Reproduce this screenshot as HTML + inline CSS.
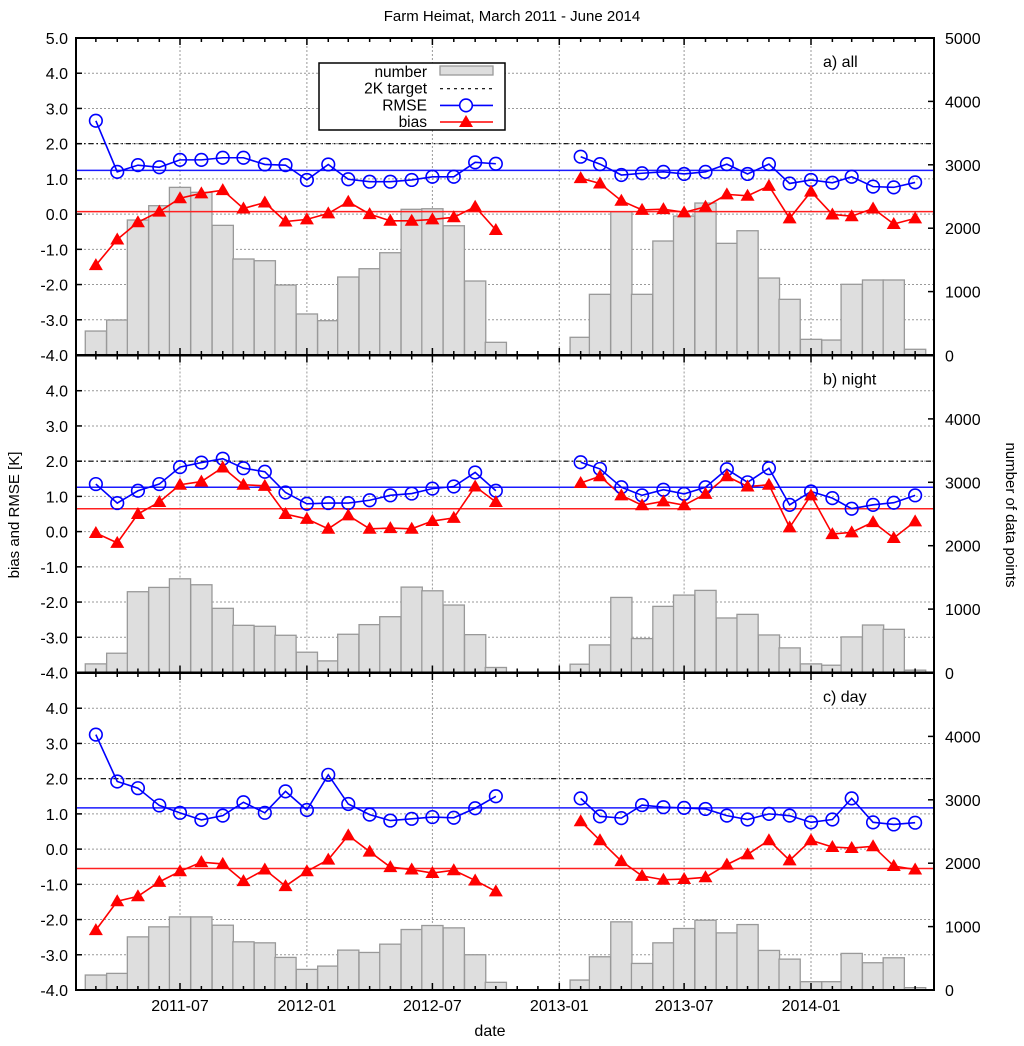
<!DOCTYPE html>
<html><head><meta charset="utf-8"><style>
html,body{margin:0;padding:0;background:#fff}
svg{display:block;font-family:"Liberation Sans",Arial,sans-serif}
</style></head><body>
<svg id="chart" width="1024" height="1046" viewBox="0 0 1024 1046" xmlns="http://www.w3.org/2000/svg">
<text x="512" y="21" font-size="15" text-anchor="middle">Farm Heimat, March 2011 - June 2014</text>
<text transform="translate(19,515) rotate(-90)" font-size="15" text-anchor="middle">bias and RMSE [K]</text>
<text transform="translate(1006,515) rotate(90)" font-size="15" text-anchor="middle">number of data points</text>
<text x="490" y="1036" font-size="16" text-anchor="middle">date</text>
</svg>
<script>
const months = ["2011-03","2011-04","2011-05","2011-06","2011-07","2011-08","2011-09","2011-10","2011-11","2011-12","2012-01","2012-02","2012-03","2012-04","2012-05","2012-06","2012-07","2012-08","2012-09","2012-10",
"2013-02","2013-03","2013-04","2013-05","2013-06","2013-07","2013-08","2013-09","2013-10","2013-11","2013-12","2014-01","2014-02","2014-03","2014-04","2014-05","2014-06"];
const xTicks = ["2011-07","2012-01","2012-07","2013-01","2013-07","2014-01"];
const leftTicks = [-4,-3,-2,-1,0,1,2,3,4,5];
const rightTicks = [0,1000,2000,3000,4000,5000];
const panelLabels = ["a) all","b) night","c) day"];

const countsA = [378,552,2129,2355,2644,2566,2045,1514,1487,1104,647,541,1230,1361,1613,2298,2307,2039,1167,200,
279,957,2260,957,1798,2192,2397,1761,1960,1214,878,247,236,1115,1183,1183,90];
const rmseA = [2.65,1.20,1.39,1.33,1.54,1.54,1.60,1.60,1.41,1.39,0.97,1.41,0.99,0.92,0.92,0.97,1.06,1.06,1.47,1.43,
1.63,1.42,1.11,1.16,1.20,1.14,1.20,1.42,1.14,1.42,0.87,0.97,0.89,1.06,0.78,0.76,0.90];
const biasA = [-1.45,-0.72,-0.23,0.07,0.45,0.59,0.68,0.16,0.33,-0.21,-0.15,0.02,0.35,0.0,-0.19,-0.19,-0.15,-0.09,0.21,-0.45,
1.02,0.87,0.38,0.12,0.14,0.05,0.21,0.56,0.52,0.80,-0.12,0.64,-0.01,-0.06,0.16,-0.28,-0.12];
const meanRmseA = 1.24, meanBiasA = 0.07;

const countsB = [136,304,1274,1342,1478,1384,1012,744,729,587,320,183,603,755,880,1347,1289,1064,597,79,
131,435,1184,535,1043,1221,1295,860,917,592,388,136,115,561,749,681,37];
const rmseB = [1.35,0.81,1.16,1.35,1.83,1.96,2.07,1.80,1.70,1.11,0.79,0.81,0.81,0.89,1.03,1.08,1.22,1.28,1.68,1.16,
1.97,1.78,1.26,1.03,1.19,1.07,1.26,1.77,1.40,1.80,0.76,1.14,0.95,0.65,0.76,0.82,1.03];
const biasB = [-0.04,-0.32,0.50,0.84,1.33,1.42,1.82,1.33,1.30,0.50,0.36,0.08,0.46,0.08,0.10,0.08,0.30,0.39,1.28,0.84,
1.38,1.57,1.03,0.75,0.86,0.75,1.07,1.57,1.28,1.33,0.12,1.03,-0.07,-0.02,0.27,-0.18,0.29];
const meanRmseB = 1.26, meanBiasB = 0.65;

const countsC = [236,262,838,996,1153,1153,1022,760,744,514,325,377,629,592,723,954,1017,980,556,121,
157,524,1075,419,744,970,1101,901,1032,624,487,131,131,577,430,508,37];
const rmseC = [3.25,1.92,1.73,1.24,1.03,0.83,0.95,1.33,1.03,1.64,1.11,2.11,1.28,0.98,0.81,0.86,0.91,0.89,1.16,1.50,
1.44,0.93,0.88,1.25,1.19,1.17,1.14,0.95,0.84,1.00,0.95,0.76,0.84,1.44,0.76,0.70,0.75];
const biasC = [-2.30,-1.48,-1.34,-0.93,-0.63,-0.37,-0.42,-0.91,-0.58,-1.05,-0.63,-0.30,0.39,-0.07,-0.51,-0.58,-0.68,-0.60,-0.89,-1.20,
0.79,0.25,-0.34,-0.76,-0.87,-0.85,-0.80,-0.44,-0.15,0.25,-0.32,0.25,0.06,0.03,0.08,-0.48,-0.58];
const meanRmseC = 1.17, meanBiasC = -0.55;
const targetValue = 2;

const NS = "http://www.w3.org/2000/svg";
const svg = document.getElementById("chart");
const L = 76, R = 934;
const panelTops = [38, 355.5, 673];
const PH = 317;
function days(s){ const p=s.split("-"); return Date.UTC(+p[0],+p[1]-1,1)/86400000; }
const d0 = days("2011-07"), d1 = days("2014-01");
function xS(s){ return 180 + (days(s)-d0)*(811-180)/(d1-d0); }
function mk(tag, attrs, parent){ const e=document.createElementNS(NS,tag); for(const k in attrs) e.setAttribute(k,attrs[k]); (parent||svg).appendChild(e); return e; }

const panels = [
 {counts:countsA, rmse:rmseA, bias:biasA, mr:meanRmseA, mb:meanBiasA},
 {counts:countsB, rmse:rmseB, bias:biasB, mr:meanRmseB, mb:meanBiasB},
 {counts:countsC, rmse:rmseC, bias:biasC, mr:meanRmseC, mb:meanBiasC}];

panels.forEach((P, pi) => {
  const top = panelTops[pi], bot = top + PH;
  const yL = v => bot - (v + 4) / 9 * PH;
  const yR = c => bot - c / 5000 * PH;
  const g = mk("g", {});
  
  
  leftTicks.forEach(v => {
    if (v === -4 || v === 5) return;
    const l = mk("line", {x1:L, x2:R, y1:yL(v), y2:yL(v), stroke:"#999", "stroke-width":1, "stroke-dasharray":"2,2"}, g);
    
    
  });
  xTicks.forEach(t => {
    const l = mk("line", {x1:xS(t), x2:xS(t), y1:top, y2:bot, stroke:"#999", "stroke-width":1, "stroke-dasharray":"2,2"}, g);
    
    
  });
  const bw = 21.2;
  P.counts.forEach((c, i) => {
    const x = xS(months[i]);
    const b = mk("rect", {x:x - bw/2, y:yR(c), width:bw, height:bot - yR(c), fill:"#dedede", stroke:"#999", "stroke-width":1.3}, g);
    
    
  });
  const t = mk("line", {x1:L, x2:R, y1:yL(targetValue), y2:yL(targetValue), stroke:"#000", "stroke-width":1.2, "stroke-dasharray":"5,3,1.5,3"}, g);
  
  
  const mr = mk("line", {x1:L, x2:R, y1:yL(P.mr), y2:yL(P.mr), stroke:"#1a1aff", "stroke-width":1.5}, g);
  
  
  const mb = mk("line", {x1:L, x2:R, y1:yL(P.mb), y2:yL(P.mb), stroke:"#ff2020", "stroke-width":1.5}, g);
  
  
  [[0,20],[20,37]].forEach(([a,b]) => {
    const rp = [], bp = [];
    for (let i=a;i<b;i++){ rp.push(xS(months[i])+","+yL(P.rmse[i])); bp.push(xS(months[i])+","+yL(P.bias[i])); }
    const rl = mk("polyline", {points:rp.join(" "), fill:"none", stroke:"#0000ff", "stroke-width":1.6}, g);
    
    
    const bl = mk("polyline", {points:bp.join(" "), fill:"none", stroke:"#ff0000", "stroke-width":1.6}, g);
    
    
  });
  P.rmse.forEach((v,i) => {
    const c = mk("circle", {cx:xS(months[i]), cy:yL(v), r:6.3, fill:"none", stroke:"#0000ff", "stroke-width":1.6}, g);
    
    
  });
  P.bias.forEach((v,i) => {
    const x = xS(months[i]), y = yL(v);
    const p = mk("polygon", {points:`${x},${y-7} ${x-7},${y+5} ${x+7},${y+5}`, fill:"#ff0000"}, g);
    
    
  });
  const f = mk("rect", {x:L, y:top, width:R-L, height:PH, fill:"none", stroke:"#000", "stroke-width":2}, g);
  
  
  for (let m = 0; m < 40; m++) {
    const yr = 2011 + Math.floor((m+2)/12), mo = (m+2)%12 + 1;
    const x = xS(yr + "-" + String(mo).padStart(2,"0"));
    if (x < L || x > R) continue;
    const len = (mo === 1 || mo === 7) ? 7 : 4;
    mk("line", {x1:x, x2:x, y1:bot, y2:bot-len, stroke:"#000", "stroke-width":1.5}, g);
    mk("line", {x1:x, x2:x, y1:top, y2:top+len, stroke:"#000", "stroke-width":1.5}, g);
  }
  leftTicks.forEach(v => {
    if (pi > 0 && v === 5) return;
    mk("line", {x1:L, x2:L+6, y1:yL(v), y2:yL(v), stroke:"#000", "stroke-width":1.5}, g);
    const tx = mk("text", {x:L-8, y:yL(v)+6, "font-size":16, "text-anchor":"end"}, g);
    tx.textContent = v.toFixed(1);
    
    
  });
  rightTicks.forEach(c => {
    if (pi > 0 && c === 5000) return;
    mk("line", {x1:R, x2:R-6, y1:yR(c), y2:yR(c), stroke:"#000", "stroke-width":1.5}, g);
    if (pi < 2 && c === 0) return;
    const tx = mk("text", {x:R+11, y:yR(c)+6, "font-size":16}, g);
    tx.textContent = c;
    
    
  });
  const pl = mk("text", {x:823, y:top+29, "font-size":16}, g);
  pl.textContent = panelLabels[pi];
  
  
});
[panelTops[1], panelTops[2]].forEach(y => {
  const tx = mk("text", {x:R+11, y:y+6, "font-size":16});
  tx.textContent = "0";
  
  
});
xTicks.forEach(t => {
  const tx = mk("text", {x:xS(t), y:1011, "font-size":16, "text-anchor":"middle"});
  tx.textContent = t;
  
  
});
const lg = mk("g", {});


mk("rect", {x:319, y:63, width:186, height:67, fill:"#fff", stroke:"#000", "stroke-width":1.5}, lg);
const entries = ["number","2K target","RMSE","bias"];
entries.forEach((e, i) => {
  const y = 72 + i * 16.7;
  const tx = mk("text", {x:427, y:y+5, "font-size":15.5, "text-anchor":"end"}, lg);
  tx.textContent = e;
  
  
});
mk("rect", {x:440, y:66, width:53, height:9, fill:"#dedede", stroke:"#999", "stroke-width":1.3}, lg);
mk("line", {x1:440, x2:493, y1:88.7, y2:88.7, stroke:"#000", "stroke-width":1.2, "stroke-dasharray":"3,4"}, lg);
mk("line", {x1:440, x2:493, y1:105.4, y2:105.4, stroke:"#0000ff", "stroke-width":1.6}, lg);
mk("circle", {cx:466, cy:105.4, r:6.3, fill:"#fff", stroke:"#0000ff", "stroke-width":1.6}, lg);
mk("line", {x1:440, x2:493, y1:122, y2:122, stroke:"#ff0000", "stroke-width":1.6}, lg);
mk("polygon", {points:"466,115 459,127 473,127", fill:"#ff0000"}, lg);
</script>
</body></html>
